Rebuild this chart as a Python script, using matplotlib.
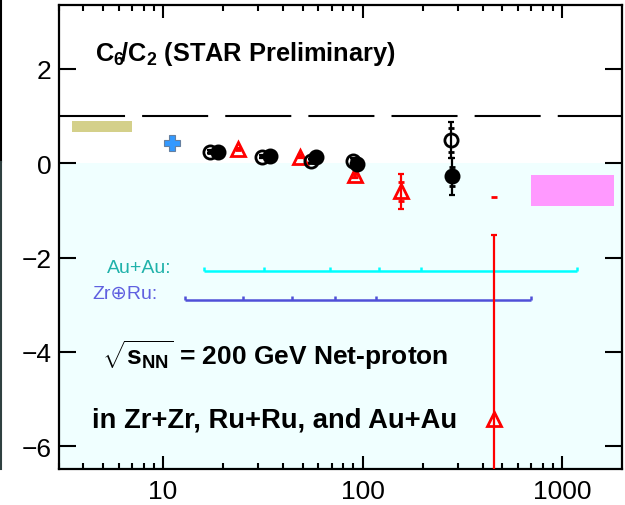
import matplotlib
matplotlib.use("Agg")
import matplotlib.pyplot as plt
from matplotlib.lines import Line2D
from matplotlib.patches import Rectangle

plt.rcParams['font.family'] = ['Liberation Sans', 'DejaVu Sans']
plt.rcParams['mathtext.fontset'] = 'custom'
plt.rcParams['mathtext.rm'] = 'Liberation Sans:bold'
plt.rcParams['mathtext.it'] = 'Liberation Sans:bold'
plt.rcParams['mathtext.bf'] = 'Liberation Sans:bold'

# ---- data ----
open_x = [17.3, 31.3, 55.0, 89.5, 276]
open_y = [0.245, 0.14, 0.04, 0.05, 0.49]
open_stat = [0.03, 0.03, 0.04, 0.05, 0.39]
open_sys = [0.02, 0.02, 0.03, 0.04, 0.25]

filled_x = [18.9, 34.3, 58.7, 93.7, 279]
filled_y = [0.245, 0.16, 0.14, -0.015, -0.283]
filled_stat = [0.03, 0.03, 0.04, 0.05, 0.39]
filled_sys = [0.02, 0.02, 0.03, 0.04, 0.21]

tri_x = [23.8, 48.4, 91.4, 155, 456]
tri_y = [0.30, 0.14, -0.26, -0.60, -5.43]
tri_stat = [0.03, 0.03, 0.05, 0.38, 3.91]
tri_sys = [0.02, 0.02, 0.03, 0.21, 4.72]

cross_x = [11.1]
cross_y = [0.435]

olive_box = (3.5, 7.0, 0.65, 0.90)
magenta_box = (697, 1815, -0.90, -0.26)

au_edges = [16.0, 32.0, 68.5, 120.6, 195.9, 1180]
au_level = -2.29
zr_edges = [12.9, 25.2, 44.3, 73.1, 116.5, 697]
zr_level = -2.905

xticks = [10, 100, 1000]
xticklabels = ["10", "100", "1000"]
yticks = [-6, -4, -2, 0, 2]

# ---- figure ----
fig = plt.figure(figsize=(6.25, 5.06), dpi=100)
ax = fig.add_axes([58.5/625, 36/506, 563.5/625, 464/506])
ax.set_xscale('log')
ax.set_xlim(3.0, 1990)
ax.set_ylim(-6.48, 3.35)

ax.axhspan(-10, 0, color='#F0FFFF', zorder=0, lw=0)
ax.axhline(1, color='k', lw=1.5, dashes=(31.7, 8.2), zorder=1)

for (x0, x1, y0, y1), c in [(olive_box, '#D4D08A'), (magenta_box, '#FF99FF')]:
    ax.add_patch(Rectangle((x0, y0), x1 - x0, y1 - y0, facecolor=c, edgecolor='none', zorder=2))

# centrality bin lines
for edges, lvl, col in [(au_edges, au_level, '#00FFFF'), (zr_edges, zr_level, '#5050D8')]:
    ax.plot([edges[0], edges[-1]], [lvl, lvl], color=col, lw=1.8, zorder=2, solid_capstyle='butt')
    ax.vlines(edges, lvl, lvl + 0.09, color=col, lw=1.8, zorder=2)

ax.text(0.086, 0.435, "Au+Au:", transform=ax.transAxes, color='#20B2AA', fontsize=14,
        ha='left', va='center')
ax.text(0.061, 0.379, "Zr\u2295Ru:", transform=ax.transAxes, color='#6060E0', fontsize=14,
        ha='left', va='center')

# data points
def series(x, y, stat, sys, color, marker, mfc, ms, z):
    ax.errorbar(x, y, yerr=stat, fmt='none', ecolor=color, elinewidth=1.6,
                capsize=2.3, capthick=1.6, zorder=z)
    ax.plot(x, [a + b for a, b in zip(y, sys)], ls='none', marker='_', color=color,
            ms=4.5, mew=2, zorder=z)
    ax.plot(x, [a - b for a, b in zip(y, sys)], ls='none', marker='_', color=color,
            ms=4.5, mew=2, zorder=z)
    ax.plot(x, y, ls='none', marker=marker, mfc=mfc, mec=color, ms=ms, mew=2, zorder=z + 0.5)

series(tri_x, tri_y, tri_stat, tri_sys, 'red', '^', 'none', 10, 3)
series(open_x, open_y, open_stat, open_sys, 'black', 'o', 'none', 9.5, 4)
series(filled_x, filled_y, filled_stat, filled_sys, 'black', 'o', 'black', 9.5, 5)
ax.plot(cross_x, cross_y, ls='none', marker='P', ms=12, mfc='#3399FF', mec='#6680A0', mew=0.8, zorder=5)

# texts
ax.text(0.065, 0.897, r"C$_6\!$/C$_2$ (STAR Preliminary)", transform=ax.transAxes,
        fontsize=18.3, fontweight='bold', ha='left', va='center')
ax.text(0.078, 0.248, r"$\sqrt{s_{NN}}$ = 200 GeV Net-proton", transform=ax.transAxes,
        fontsize=19, fontweight='bold', ha='left', va='center')
ax.text(0.0595, 0.106, "in Zr+Zr, Ru+Ru, and Au+Au", transform=ax.transAxes,
        fontsize=19.7, fontweight='bold', ha='left', va='center')

# axes styling
for s in ax.spines.values():
    s.set_linewidth(1.6)
ax.set_xticks(xticks)
ax.set_xticklabels(xticklabels)
ax.set_yticks(yticks)
ax.set_yticklabels(["\u22126", "\u22124", "\u22122", "0", "2"])
ax.tick_params(axis='x', which='major', direction='in', length=9.5, width=1.5,
               top=True, labelsize=19, pad=7)
ax.tick_params(axis='x', which='minor', direction='in', length=4.5, width=1.5, top=True)
ax.tick_params(axis='y', which='major', direction='in', length=12, width=1.5,
               right=True, labelsize=19, pad=5)
ax.tick_params(axis='y', which='minor', left=False, right=False)

# thin frame remnant on left figure edge
fig.add_artist(Line2D([0.002, 0.002], [1.0, (506-163)/506], transform=fig.transFigure,
                      color='black', lw=1.5))
fig.add_artist(Line2D([0.002, 0.002], [(506-163)/506, 36/506], transform=fig.transFigure,
                      color='#2F4040', lw=1.5))

fig.savefig("out.png", dpi=100)
